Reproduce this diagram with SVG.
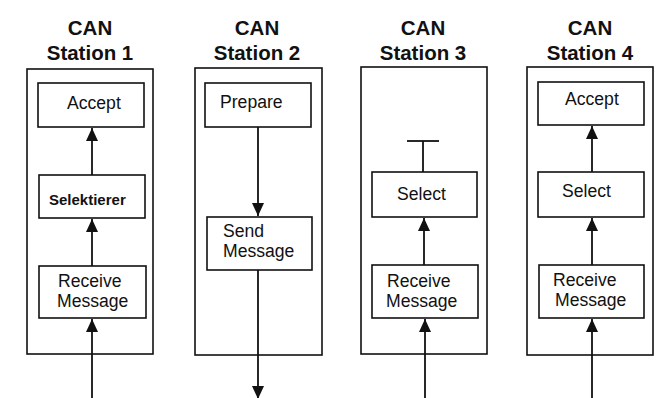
<svg xmlns="http://www.w3.org/2000/svg" width="657" height="398" viewBox="0 0 657 398">
<style>
.bg{fill:#ffffff}
.station{fill:none;stroke:#111;stroke-width:1.6}
.box{fill:#ffffff;stroke:#111;stroke-width:1.6}
.title{font-family:"Liberation Sans",Arial,sans-serif;font-weight:bold;font-size:20.5px;fill:#111;text-anchor:middle}
.lbl{font-family:"Liberation Sans",Arial,sans-serif;font-size:17.6px;fill:#111}
.lbl-b{font-family:"Liberation Sans",Arial,sans-serif;font-size:15px;font-weight:bold;fill:#111}
.conn{fill:none;stroke:#111;stroke-width:1.8}
</style>
<defs>
<marker id="arr" markerUnits="userSpaceOnUse" markerWidth="14" markerHeight="12" viewBox="0 0 14 12" refX="13" refY="6" orient="auto">
<path d="M0,0 L13,6 L0,12 z" fill="#111"/>
</marker>
</defs>
<rect class="bg" x="0" y="0" width="657" height="398"/>

<g id="station1">
<text class="title" x="90" y="35">CAN</text>
<text class="title" x="90" y="60">Station 1</text>
<rect class="station" x="27" y="69" width="126" height="285"/>
</g>
<g id="s1-accept"><rect class="box" x="38" y="83" width="106" height="44"/><text class="lbl" x="67" y="109">Accept</text></g>
<g id="s1-selektierer"><rect class="box" x="39" y="175" width="106" height="43"/><text class="lbl-b" x="49" y="205">Selektierer</text></g>
<g id="s1-receive"><rect class="box" x="39" y="266" width="107" height="52"/><text class="lbl" x="58" y="287">Receive</text><text class="lbl" x="57" y="307">Message</text></g>

<g id="station2">
<text class="title" x="257" y="35">CAN</text>
<text class="title" x="257" y="60">Station 2</text>
<rect class="station" x="195" y="68" width="127" height="287"/>
</g>
<g id="s2-prepare"><rect class="box" x="205" y="83" width="106" height="44"/><text class="lbl" x="220" y="108">Prepare</text></g>
<g id="s2-send"><rect class="box" x="207" y="217" width="105" height="53"/><text class="lbl" x="223" y="237">Send</text><text class="lbl" x="223" y="257">Message</text></g>

<g id="station3">
<text class="title" x="423" y="35">CAN</text>
<text class="title" x="423" y="60">Station 3</text>
<rect class="station" x="361" y="67" width="126" height="287"/>
</g>
<g id="s3-select"><rect class="box" x="372" y="172" width="105" height="45"/><text class="lbl" x="397" y="200">Select</text></g>
<g id="s3-receive"><rect class="box" x="372" y="265" width="106" height="53"/><text class="lbl" x="387" y="287">Receive</text><text class="lbl" x="386" y="307">Message</text></g>

<g id="station4">
<text class="title" x="590" y="35">CAN</text>
<text class="title" x="590" y="60">Station 4</text>
<rect class="station" x="527" y="67" width="126" height="288"/>
</g>
<g id="s4-accept"><rect class="box" x="538" y="82" width="106" height="43"/><text class="lbl" x="565" y="105">Accept</text></g>
<g id="s4-select"><rect class="box" x="538" y="172" width="106" height="45"/><text class="lbl" x="562" y="197">Select</text></g>
<g id="s4-receive"><rect class="box" x="539" y="265" width="105" height="53"/><text class="lbl" x="553" y="286">Receive</text><text class="lbl" x="555" y="306">Message</text></g>

<g id="connectors">
<line class="conn" x1="92" y1="175" x2="92" y2="128" marker-end="url(#arr)"/>
<line class="conn" x1="92" y1="266" x2="92" y2="219" marker-end="url(#arr)"/>
<line class="conn" x1="92" y1="398" x2="92" y2="319" marker-end="url(#arr)"/>

<line class="conn" x1="258" y1="127" x2="258" y2="216" marker-end="url(#arr)"/>
<line class="conn" x1="258" y1="270" x2="258" y2="399" marker-end="url(#arr)"/>

<line class="conn" x1="407" y1="141" x2="439" y2="141"/>
<line class="conn" x1="423" y1="141" x2="423" y2="172"/>
<line class="conn" x1="424" y1="265" x2="424" y2="218" marker-end="url(#arr)"/>
<line class="conn" x1="425" y1="398" x2="425" y2="319" marker-end="url(#arr)"/>

<line class="conn" x1="592" y1="172" x2="592" y2="126" marker-end="url(#arr)"/>
<line class="conn" x1="592" y1="265" x2="592" y2="218" marker-end="url(#arr)"/>
<line class="conn" x1="592" y1="398" x2="592" y2="319" marker-end="url(#arr)"/>
</g>
</svg>
